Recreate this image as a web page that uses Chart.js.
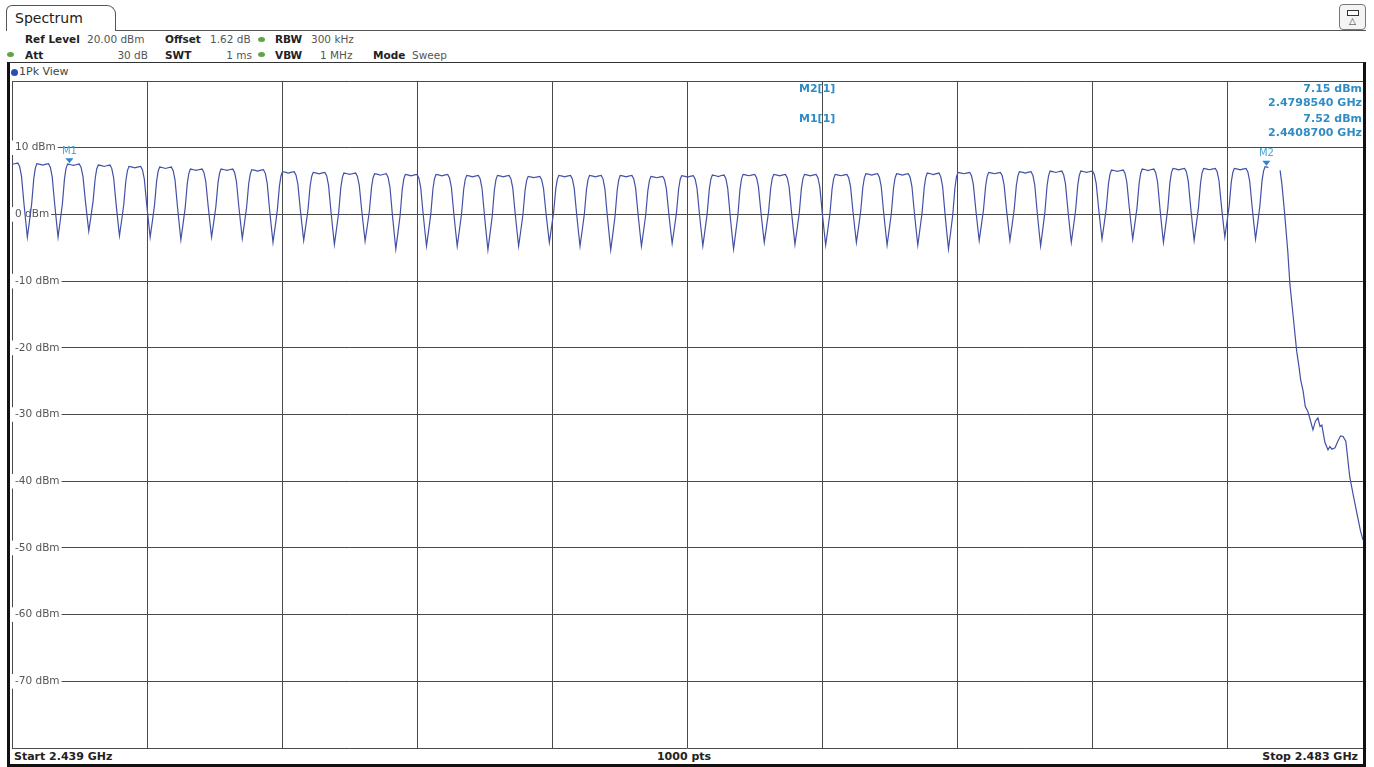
<!DOCTYPE html>
<html>
<head>
<meta charset="utf-8">
<title>Spectrum</title>
<script src="https://cdn.jsdelivr.net/npm/chart.js@4.4.1/dist/chart.umd.min.js"></script>
<style>
  html, body { margin: 0; padding: 0; background: #fff; }
  body { width: 1374px; height: 767px; position: relative; overflow: hidden;
         font-family: "DejaVu Sans", Verdana, sans-serif; color: #555; }
  .t { position: absolute; white-space: nowrap; line-height: 12px; font-size: 10.5px; }
  .b { font-weight: bold; color: #222; }
  .r { text-align: right; }
  .dot { position: absolute; width: 7px; height: 5px; border-radius: 50%; background: #5fa447; }
  .tab { position: absolute; left: 6px; top: 5px; width: 110px; height: 26px; box-sizing: border-box;
         border: 1px solid #555; border-bottom: none; border-radius: 6px 9px 0 0; background: #fff; }
  .tabline { position: absolute; left: 115px; top: 30px; width: 1251px; border-top: 1px solid #555; }
  .icon { position: absolute; left: 1339px; top: 4px; width: 27px; height: 26px; box-sizing: border-box;
          border: 1px solid #777; border-radius: 4px; background: #f4f4f4; }
  .icon .bat { position: absolute; left: 7px; top: 5px; width: 10px; height: 4px; border: 1px solid #333; background: #fff; }
  .icon .tri { position: absolute; left: 0; top: 11px; width: 25px; text-align: center; font-size: 9px; line-height: 10px; color: #333; }
  .frame { position: absolute; left: 7px; top: 62px; width: 1359px; height: 705px; box-sizing: border-box;
           border-top: 1px solid #333; border-left: 3px solid #111; border-right: 3px solid #111;
           border-bottom: 3px solid #111; z-index: 3; pointer-events: none; }
  #plot { position: absolute; left: 12px; top: 81px; z-index: 1; }
  .mk { position: absolute; white-space: nowrap; line-height: 13px; font-size: 11px; font-weight: bold; color: #2f8cc4; z-index: 2; }
  .foot { position: absolute; white-space: nowrap; line-height: 13px; font-size: 11px; font-weight: bold; color: #222; z-index: 2; }
  .vdot { position: absolute; left: 11px; top: 69px; width: 7px; height: 7px; border-radius: 50%; background: #2b4fb0; }
</style>
</head>
<body>

<!-- instrument tab and settings header -->
<div class="tab"></div>
<div class="t" style="left:15px;top:10px;font-size:14px;line-height:16px;color:#222;">Spectrum</div>
<div class="tabline"></div>
<div class="icon"><div class="bat"></div><div class="tri">&#9651;</div></div>

<div class="t b" style="left:25px;top:33px;">Ref Level</div>
<div class="t" style="left:87px;top:33px;">20.00 dBm</div>
<div class="t b" style="left:165px;top:33px;">Offset</div>
<div class="t" style="left:210px;top:33px;">1.62 dB</div>
<div class="dot" style="left:258px;top:37px;"></div>
<div class="t b" style="left:275px;top:33px;">RBW</div>
<div class="t" style="left:311px;top:33px;">300 kHz</div>

<div class="dot" style="left:7px;top:52px;"></div>
<div class="t b" style="left:25px;top:49px;">Att</div>
<div class="t r" style="left:98px;top:49px;width:50px;">30 dB</div>
<div class="t b" style="left:165px;top:49px;">SWT</div>
<div class="t r" style="left:202px;top:49px;width:50px;">1 ms</div>
<div class="dot" style="left:258px;top:52px;"></div>
<div class="t b" style="left:275px;top:49px;">VBW</div>
<div class="t" style="left:320px;top:49px;">1 MHz</div>
<div class="t b" style="left:373px;top:49px;">Mode</div>
<div class="t" style="left:412px;top:49px;">Sweep</div>

<!-- trace window -->
<div class="vdot"></div>
<div class="t" style="left:19px;top:66px;font-size:11px;color:#444;">1Pk View</div>

<canvas id="plot" width="1352" height="668"></canvas>

<!-- marker readout -->
<div class="mk" style="left:799px;top:82px;">M2[1]</div>
<div class="mk" style="left:1162px;top:82px;width:200px;text-align:right;">7.15 dBm</div>
<div class="mk" style="left:1162px;top:96px;width:200px;text-align:right;">2.4798540 GHz</div>
<div class="mk" style="left:799px;top:112px;">M1[1]</div>
<div class="mk" style="left:1162px;top:112px;width:200px;text-align:right;">7.52 dBm</div>
<div class="mk" style="left:1162px;top:126px;width:200px;text-align:right;">2.4408700 GHz</div>

<!-- sweep footer -->
<div class="foot" style="left:14px;top:750px;">Start 2.439 GHz</div>
<div class="foot" style="left:584px;top:750px;width:200px;text-align:center;">1000 pts</div>
<div class="foot" style="left:1158px;top:750px;width:200px;text-align:right;">Stop 2.483 GHz</div>

<div class="frame"></div>

<script>
// Sweep span in MHz and reference grid
const spanStartMHz = 2439;
const spanStopMHz = 2483;
const xGridMHz = [2439, 2443.4, 2447.8, 2452.2, 2456.6, 2461, 2465.4, 2469.8, 2474.2, 2478.6, 2483];
const yGridDbm = [20, 10, 0, -10, -20, -30, -40, -50, -60, -70, -80];
const yTickText = ['', '10 dBm', '0 dBm', '-10 dBm', '-20 dBm', '-30 dBm', '-40 dBm', '-50 dBm', '-60 dBm', '-70 dBm', ''];

// Hopping channels (1 MHz raster) and their flat-top level in dBm
const channelMHz = [2439, 2440, 2441, 2442, 2443, 2444, 2445, 2446, 2447, 2448,
                    2449, 2450, 2451, 2452, 2453, 2454, 2455, 2456, 2457, 2458,
                    2459, 2460, 2461, 2462, 2463, 2464, 2465, 2466, 2467, 2468,
                    2469, 2470, 2471, 2472, 2473, 2474, 2475, 2476, 2477, 2478,
                    2479, 2480];
const plateauDbm = [7.7, 7.6, 7.55, 7.4, 7.2, 7.1, 6.8, 6.8, 6.7, 6.4,
                    6.3, 6.2, 6.1, 6.0, 6.0, 5.85, 5.85, 5.7, 5.85, 5.85,
                    5.85, 5.7, 5.8, 5.9, 6.0, 6.0, 6.0, 6.0, 6.1, 6.1,
                    6.2, 6.3, 6.3, 6.4, 6.5, 6.5, 6.65, 6.8, 6.9, 6.9,
                    6.9, 7.15];
// Minimum between neighbouring channels (at channel + 0.5 MHz)
const dipDbm = [-3.4, -3.4, -2.5, -3.2, -3.4, -3.8, -3.4, -3.6, -4.2, -3.9,
                -4.5, -4.0, -5.2, -4.75, -4.75, -5.3, -4.75, -4.2, -4.75, -5.3,
                -4.75, -4.35, -4.7, -5.2, -4.2, -4.5, -4.6, -4.2, -4.6, -4.6,
                -5.2, -3.9, -3.9, -4.7, -4.2, -3.7, -3.7, -4.2, -3.9, -3.4,
                -3.7];
// Shape of one channel lobe: offset from channel centre (MHz) and
// how far the trace sits between the dip (0) and the flat top (1)
const lobeOffsetMHz = [-0.5, -0.43, -0.36, -0.29, -0.24, -0.19, -0.08, 0, 0.08, 0.19, 0.25, 0.31, 0.39, 0.45];
const lobeShare     = [0,    0.22,  0.45,  0.8,   0.94,  1.0,   0.99,  0.98, 0.99, 1.0, 0.95, 0.82, 0.45, 0.2];
// Upper band-edge roll-off after the last channel
const tailMHz = [2480.30, 2480.36, 2480.45, 2480.55, 2480.62, 2480.72, 2480.84, 2480.92, 2480.97, 2481.05,
                 2481.12, 2481.20, 2481.27, 2481.37, 2481.45, 2481.53, 2481.60, 2481.66, 2481.76, 2481.86,
                 2481.92, 2481.99, 2482.09, 2482.18, 2482.27, 2482.35, 2482.44, 2482.57, 2482.70, 2482.80,
                 2482.92, 2483.00];
const tailDbm = [6.6, 4.5, 0, -5.5, -10.5, -15, -20.5, -23, -24.8, -26.5,
                 -28.8, -29.5, -30.6, -32.3, -31.0, -30.5, -31.8, -31.6, -34.2, -35.3,
                 -34.8, -35.2, -35.0, -34.0, -33.2, -33.3, -34.0, -39.4, -42.5, -44.8,
                 -47.5, -48.8];

// Markers
const markerNames = ['M1', 'M2'];
const markerMHz = [2440.87, 2479.854];
const markerDbm = [7.52, 7.15];

// Assemble the trace table
const trace = [];
const last = channelMHz.length - 1;
channelMHz.forEach((f, i) => {
  const top = plateauDbm[i];
  lobeOffsetMHz.forEach((off, k) => {
    if (i === 0 && off < 0) return;
    if (i === last && off > 0.19) return;
    const floor = off < 0 ? dipDbm[i - 1] : dipDbm[i];
    trace.push({ x: f + off, y: floor + lobeShare[k] * (top - floor) });
  });
});
tailMHz.forEach((f, i) => trace.push({ x: f, y: tailDbm[i] }));

// Draws the marker triangles and their names above the trace
const markerPlugin = {
  id: 'markers',
  afterDatasetsDraw(chart) {
    const { ctx, scales } = chart;
    ctx.save();
    markerNames.forEach((name, i) => {
      const px = scales.x.getPixelForValue(markerMHz[i]);
      const py = scales.y.getPixelForValue(markerDbm[i]) - 1;
      ctx.fillStyle = '#2a86cc';
      ctx.beginPath();
      ctx.moveTo(px - 4, py - 5);
      ctx.lineTo(px + 4, py - 5);
      ctx.lineTo(px, py);
      ctx.closePath();
      ctx.fill();
      ctx.fillStyle = '#4aa6d4';
      ctx.font = '10px "DejaVu Sans"';
      ctx.textAlign = 'center';
      ctx.textBaseline = 'middle';
      ctx.fillText(name, px, py - 12);
    });
    ctx.restore();
  }
};

new Chart(document.getElementById('plot'), {
  type: 'line',
  data: {
    datasets: [{
      data: trace,
      borderColor: '#4350a6',
      borderWidth: 1.2,
      pointRadius: 0,
      tension: 0,
      fill: false
    }]
  },
  options: {
    responsive: false,
    animation: false,
    devicePixelRatio: 1,
    layout: { padding: { left: 0, top: 0, right: 1, bottom: 1 } },
    plugins: { legend: { display: false }, tooltip: { enabled: false } },
    scales: {
      x: {
        type: 'linear',
        min: spanStartMHz,
        max: spanStopMHz,
        afterBuildTicks(s) { s.ticks = xGridMHz.map(v => ({ value: v })); },
        afterFit(s) { s.height = 0; s.paddingLeft = 0; s.paddingRight = 0; },
        ticks: { display: false },
        grid: { color: '#4a4a4a', lineWidth: 1, drawTicks: false },
        border: { display: false }
      },
      y: {
        type: 'linear',
        min: -80,
        max: 20,
        afterBuildTicks(s) { s.ticks = yGridDbm.map(v => ({ value: v })); },
        afterFit(s) { s.width = 0; s.paddingTop = 0; s.paddingBottom = 0; },
        ticks: {
          mirror: true,
          padding: 3,
          color: '#555',
          font: { family: 'DejaVu Sans', size: 10.5 },
          callback: (v) => yTickText[yGridDbm.indexOf(v)],
          showLabelBackdrop: (c) => !!(c.tick && c.tick.label),
          backdropColor: '#ffffff',
          backdropPadding: { left: 3, right: 2, top: 1, bottom: 1 }
        },
        grid: { color: '#4a4a4a', lineWidth: 1, drawTicks: false },
        border: { display: false }
      }
    }
  },
  plugins: [markerPlugin]
});
</script>
</body>
</html>
